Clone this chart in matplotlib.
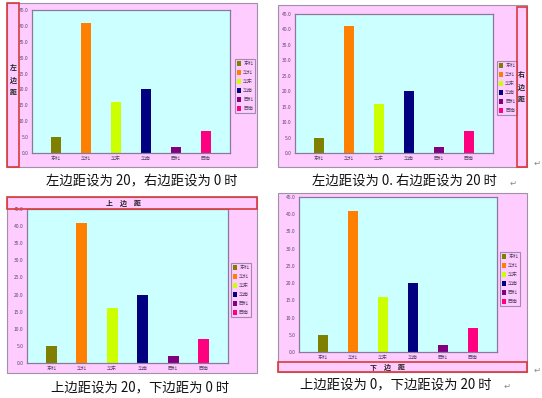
import matplotlib
matplotlib.use("Agg")
import matplotlib.pyplot as plt
from matplotlib.patches import Rectangle

plt.rcParams['font.family'] = ['Noto Sans CJK SC', 'DejaVu Sans']

categories = ['东北', '华北', '华东', '华南', '西北', '西南']
values = [5, 41, 16, 20, 2, 7]
bar_colors = ['#808000', '#FF8000', '#CCFF00', '#000080', '#800080', '#FF0080']
yticks = [0, 5, 10, 15, 20, 25, 30, 35, 40, 45]
captions = ['左边距设为 20，右边距设为 0 时',
            '左边距设为 0. 右边距设为 20 时',
            '上边距设为 20，下边距为 0 时',
            '上边距设为 0，下边距设为 20 时']
margin_labels = ['左\n边\n距', '右\n边\n距', '上　边　距', '下　边　距']

W, H = 542, 398
fig = plt.figure(figsize=(W / 100, H / 100), dpi=100, facecolor='white')

PINK = '#FFCCFF'
CYAN = '#CCFFFF'
RED = '#D83A3A'
AXC = '#8A7A9A'
TXT = '#5A4A6A'

bg = fig.add_axes([0, 0, 1, 1], zorder=0)
bg.set_xlim(0, W); bg.set_ylim(H, 0); bg.axis('off')
fg = fig.add_axes([0, 0, 1, 1], zorder=10)
fg.set_xlim(0, W); fg.set_ylim(H, 0); fg.axis('off'); fg.patch.set_alpha(0)

panels = [
    dict(pink=(7, 3, 257, 167), plot=(32, 10, 230, 153), leg=(245, 86),
         cap=(142, 181), red=(7, 3, 19, 167), rt=(13, 80), vert=True),
    dict(pink=(278, 5, 527, 167), plot=(295, 14, 493, 153), leg=(507, 88),
         cap=(404, 181), red=(517, 7, 527, 167), rt=(521, 87), vert=True),
    dict(pink=(7, 197, 257, 373), plot=(27, 209, 228, 363), leg=(241, 290),
         cap=(140, 387), red=(7, 197, 257, 209), rt=(123, 203), vert=False),
    dict(pink=(278, 193, 527, 372), plot=(299, 197, 497, 352), leg=(510, 279),
         cap=(396, 384), red=(278, 362, 527, 372), rt=(388, 367), vert=False),
]

for i, p in enumerate(panels):
    x0, y0, x1, y1 = p['pink']
    bg.add_patch(Rectangle((x0, y0), x1 - x0, y1 - y0, facecolor=PINK,
                           edgecolor='#A090A8', linewidth=0.8))
    a0, b0, a1, b1 = p['plot']
    ax = fig.add_axes([a0 / W, 1 - b1 / H, (a1 - a0) / W, (b1 - b0) / H], zorder=5)
    ax.set_facecolor(CYAN)
    xs = list(range(len(categories)))
    ax.bar(xs, values, width=0.35, color=bar_colors, label=categories)
    ax.set_xlim(-0.8, 5.8)
    ax.set_ylim(0, 45)
    ax.set_yticks(yticks)
    ax.set_yticklabels([f'{v:.1f}' for v in yticks])
    ax.set_xticks(xs)
    ax.set_xticklabels(categories)
    ax.tick_params(axis='both', length=0, labelsize=3.6, colors=TXT, pad=2.5)
    for s in ax.spines.values():
        s.set_color(AXC)
        s.set_linewidth(0.9)
    lx, ly = p['leg']
    handles = [Rectangle((0, 0), 1, 1, facecolor=c) for c in bar_colors]
    leg = ax.legend(handles, categories, loc='center', bbox_to_anchor=(lx / W, 1 - ly / H),
                    bbox_transform=fig.transFigure, fontsize=3.6, handlelength=0.9,
                    handleheight=1.2, handletextpad=0.4, labelspacing=0.75,
                    borderpad=0.4, borderaxespad=0, frameon=True, fancybox=False)
    leg.get_frame().set_facecolor(PINK)
    leg.get_frame().set_edgecolor(AXC)
    leg.get_frame().set_linewidth(0.8)
    for t in leg.get_texts():
        t.set_color(TXT)
    r0, s0, r1, s1 = p['red']
    fg.add_patch(Rectangle((r0, s0), r1 - r0, s1 - s0, facecolor='none',
                           edgecolor=RED, linewidth=1.2))
    tx, ty = p['rt']
    fg.text(tx, ty, margin_labels[i], ha='center', va='center', fontsize=5,
            fontweight='bold', style='italic', color='#222222',
            linespacing=1.9 if p['vert'] else 1.0)
    cx, cy = p['cap']
    bg.text(cx, cy, captions[i], ha='center', va='center', fontsize=9.6, color='#111111')

# paragraph marks
for (x, y) in [(534, 163), (510, 183), (534, 370), (504, 386)]:
    bg.text(x, y, '↵', ha='left', va='center', fontsize=6, color='#888888',
            family=['DejaVu Sans'])

fig.savefig('out.png', dpi=100, facecolor='white')
